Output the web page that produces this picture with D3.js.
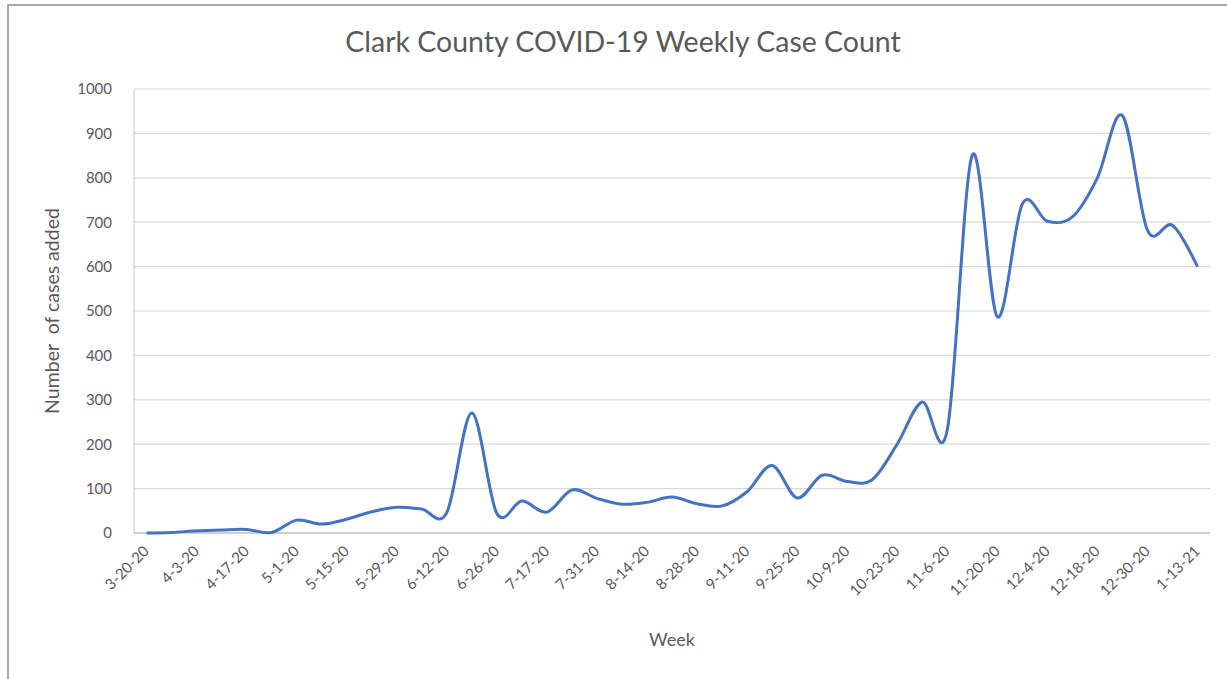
<!DOCTYPE html>
<html>
<head>
<meta charset="utf-8">
<script src="https://cdn.jsdelivr.net/npm/d3@7"></script>
<style>
  body { margin: 0; background: #fff; }
  text { font-family: Lato, "Open Sans", sans-serif; fill: #595959; }
</style>
</head>
<body>
<div class="chart"></div>
<script>
// weekly categories (labels shown on every other one)
const weeks = [
  "3-20-20", "3-27-20", "4-3-20", "4-10-20", "4-17-20", "4-24-20", "5-1-20", "5-8-20",
  "5-15-20", "5-22-20", "5-29-20", "6-5-20", "6-12-20", "6-19-20", "6-26-20", "7-10-20",
  "7-17-20", "7-24-20", "7-31-20", "8-7-20", "8-14-20", "8-21-20", "8-28-20", "9-4-20",
  "9-11-20", "9-18-20", "9-25-20", "10-2-20", "10-9-20", "10-16-20", "10-23-20", "10-30-20",
  "11-6-20", "11-13-20", "11-20-20", "11-27-20", "12-4-20", "12-11-20", "12-18-20", "12-24-20",
  "12-30-20", "1-6-21", "1-13-21"
];
const casesAdded = [
  0, 1, 5, 7, 8, 1, 29, 20,
  31, 48, 58, 54, 46, 270, 44, 72,
  47, 97, 78, 65, 69, 81, 66, 61,
  93, 152, 79, 130, 116, 120, 200, 295,
  232, 851, 487, 741, 702, 712, 800, 940,
  682, 693, 600
];
const yTicks = [0, 100, 200, 300, 400, 500, 600, 700, 800, 900, 1000];

const W = 1227, H = 679;
const margin = {top: 89, right: 17, bottom: 146, left: 134};
const width = W - margin.left - margin.right,
      height = H - margin.top - margin.bottom;

const svg = d3.select(".chart").append("svg")
    .attr("width", W)
    .attr("height", H);

// chart frame (runs off the right and bottom edge)
svg.append("rect")
    .attr("x", 8).attr("y", 5)
    .attr("width", W + 20).attr("height", H + 20)
    .attr("fill", "none")
    .attr("stroke", "#8c8c8c")
    .attr("stroke-width", 1.5);

const g = svg.append("g")
    .attr("transform", `translate(${margin.left},${margin.top})`);

const xScale = d3.scalePoint()
    .domain(weeks)
    .range([0, width])
    .padding(0.5);

const yScale = d3.scaleLinear()
    .domain([0, 1000])
    .range([height, 0]);

// gridlines
g.append("g")
    .attr("class", "grid")
    .selectAll("line")
    .data(yTicks.slice(1))
    .join("line")
    .attr("x1", 0).attr("x2", width)
    .attr("y1", d => yScale(d)).attr("y2", d => yScale(d))
    .attr("stroke", "#d9d9d9")
    .attr("stroke-width", 1.2);

// axis lines
g.append("line")
    .attr("x1", 0).attr("x2", width)
    .attr("y1", height).attr("y2", height)
    .attr("stroke", "#bfbfbf").attr("stroke-width", 1.5);
g.append("line")
    .attr("x1", 0).attr("x2", 0)
    .attr("y1", 0).attr("y2", height)
    .attr("stroke", "#d0d0d0").attr("stroke-width", 1.2);

const yAxis = d3.axisLeft(yScale)
    .tickValues(yTicks)
    .tickFormat(d3.format("d"))
    .tickSize(0)
    .tickPadding(22);

g.append("g")
    .attr("class", "axis y-axis")
    .call(yAxis)
    .call(s => s.select(".domain").remove())
    .selectAll("text")
    .style("font-size", "15px")
    .attr("fill", "#595959");

const xAxis = d3.axisBottom(xScale)
    .tickValues(weeks.filter((d, i) => i % 2 == 0))
    .tickSize(0);

g.append("g")
    .attr("class", "axis x-axis")
    .attr("transform", `translate(0, ${height})`)
    .call(xAxis)
    .call(s => s.select(".domain").remove())
    .selectAll("text")
    .style("font-size", "15px")
    .attr("fill", "#595959")
    .attr("text-anchor", "end")
    .attr("dy", null)
    .attr("y", 0)
    .attr("transform", "translate(3, 19) rotate(-45)");

const line = d3.line()
    .x((d, i) => xScale(weeks[i]))
    .y(d => yScale(d))
    .curve(d3.curveCatmullRom.alpha(0));

g.append("path")
    .datum(casesAdded)
    .attr("fill", "none")
    .attr("stroke", "#4472c4")
    .attr("stroke-width", 3)
    .attr("stroke-linejoin", "round")
    .attr("d", line);

// titles
svg.append("text")
    .attr("x", 623).attr("y", 52)
    .attr("text-anchor", "middle")
    .style("font-size", "28.5px")
    .text("Clark County COVID-19 Weekly Case Count");

svg.append("text")
    .attr("x", margin.left + width / 2).attr("y", 646)
    .attr("text-anchor", "middle")
    .style("font-size", "18px")
    .text("Week");

svg.append("text")
    .attr("transform", `translate(59, ${margin.top + height / 2}) rotate(-90)`)
    .attr("text-anchor", "middle")
    .style("font-size", "19.5px")
    .style("white-space", "pre")
    .text("Number  of cases added");
</script>
</body>
</html>
